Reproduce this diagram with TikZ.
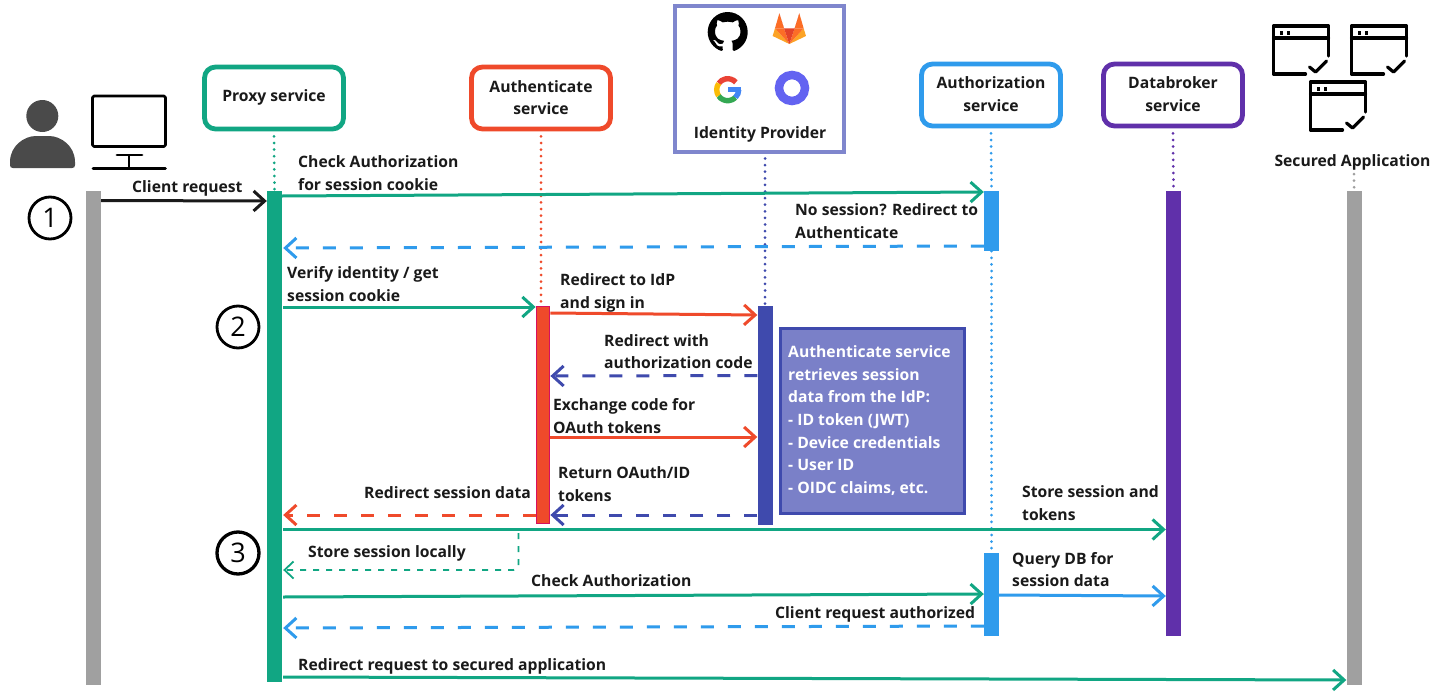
\documentclass[tikz,border=0pt]{standalone}
\usepackage{fontspec}
\setmainfont{Open Sans}
\usetikzlibrary{arrows.meta,svg.path}
\definecolor{cgreen}{HTML}{11A683}
\definecolor{cblue}{HTML}{2F9BEC}
\definecolor{cred}{HTML}{EF4A2B}
\definecolor{cindigo}{HTML}{3F4AAD}
\definecolor{cpurple}{HTML}{6030AA}
\definecolor{cgray}{HTML}{A0A0A0}
\definecolor{cpanel}{HTML}{7A80C8}
\definecolor{cidp}{HTML}{7F86CD}
\definecolor{ctext}{HTML}{1A1A1A}
\definecolor{cdark}{HTML}{4A4A4A}
\definecolor{ccrim}{HTML}{D6105F}
\definecolor{glred}{HTML}{E24329}
\definecolor{glorange}{HTML}{FC6D26}
\definecolor{glamber}{HTML}{FCA326}
\tikzset{
  x=1pt,y=-1pt,
  labeltext/.style={anchor=west,inner sep=0pt,align=left,text=ctext,font=\bfseries\fontsize{15.7}{22.6}\selectfont},
  boxframe/.style={draw,rounded corners=11pt,line width=4.8pt,fill=white,minimum width=139pt,minimum height=62pt,inner sep=0pt},
  boxlabel/.style={labeltext,anchor=center,align=center},
  lifebar/.style={rectangle,inner sep=0pt,minimum width=15pt},
  dotline/.style={line width=3pt,line cap=round,dash pattern=on 0pt off 6.6pt},
  msg/.style={line width=3pt,-{Straight Barb[length=11pt,width=20pt,line width=3pt]}},
  ret/.style={msg,dash pattern=on 13pt off 14pt},
  stepmark/.style={circle,draw=black,line width=2.8pt,minimum size=42pt,inner sep=0pt,font=\fontsize{27}{27}\selectfont},
  winline/.style={line width=3.2pt,line cap=round,line join=round},
}
\newcommand{\appwin}[2]{%
  \begin{scope}[shift={(#1,#2)}]
    \draw[winline] (32,48) -- (0,48) -- (0,0) -- (55,0) -- (55,30);
    \draw[winline] (0,12) -- (55,12);
    \fill (6,5) rectangle +(3.5,3.5);
    \fill (13,5) rectangle +(3.5,3.5);
    \draw[winline] (36,41) -- (42,46) -- (53,35);
  \end{scope}}
\begin{document}
\begin{tikzpicture}
\useasboundingbox (0,0) rectangle (1435,696);
\fill[white] (0,0) rectangle (1435,696);

% header boxes
\node[boxframe,draw=cgreen] (proxybox) at (274,98) {};
\node[boxlabel] (proxylabel) at (274,97.5) {Proxy service};
\node[boxframe,draw=cred] (authbox) at (541,98) {};
\node[boxlabel] (authlabel) at (541,97.5) {Authenticate\\service};
\node[boxframe,draw=cblue] (authzbox) at (991,95) {};
\node[boxlabel] (authzlabel) at (991,94) {Authorization\\service};
\node[boxframe,draw=cpurple] (dbbox) at (1173,95) {};
\node[boxlabel] (dblabel) at (1173,94) {Databroker\\service};
\node[draw=cidp,line width=4pt,fill=white,minimum width=169pt,minimum height=146pt,inner sep=0pt] (idpbox) at (759,78.5) {};
\node[boxlabel] (idplabel) at (760,134) {Identity Provider};
\node[boxlabel] (seclabel) at (1352.5,162) {Secured Application};

% lifeline bars
\node[lifebar,fill=cgray,minimum height=494pt] (clientbar) at (93.5,438) {};
\node[lifebar,fill=cgreen,minimum height=491pt] (proxybar) at (274.5,436.5) {};
\node[lifebar,fill=cred,draw=ccrim,line width=1.8pt,minimum width=13pt,minimum height=217pt] (authbar) at (543,415) {};
\node[lifebar,fill=cindigo,minimum height=219pt] (idpbar) at (765,415.5) {};
\node[lifebar,fill=cblue,minimum height=60pt] (authzbara) at (991.5,221) {};
\node[lifebar,fill=cblue,minimum height=83pt] (authzbarb) at (991.5,594.5) {};
\node[lifebar,fill=cpurple,minimum height=445pt] (dbbar) at (1173.5,413.5) {};
\node[lifebar,fill=cgray,minimum height=494pt] (secbar) at (1354,438) {};

% dotted lifelines
\draw[dotline,cgreen] (proxybox.south) ++(0,5) -- (proxybar.north);
\draw[dotline,cred] (authbox.south) ++(0,5) -- (541,306);
\draw[dotline,cindigo] (idpbox.south -| idpbar.north) ++(0,5) -- (idpbar.north);
\draw[dotline,cblue] (authzbox.south) ++(0,5) -- (authzbara.north);
\draw[dotline,cblue] (authzbara.south) -- (authzbarb.north);
\draw[dotline,cpurple] (dbbox.south) ++(0,5) -- (dbbar.north);
\draw[dotline,cgray] (seclabel.south -| secbar.north) ++(0,4) -- (secbar.north);

% panel
\node[draw=cindigo,fill=cpanel,line width=3.6pt,minimum width=184pt,minimum height=185pt,inner sep=0pt] (panel) at (872.5,421) {};
\node[labeltext,text=white] (paneltext) at (788,420.5) {Authenticate service\\retrieves session\\data from the IdP:\\- ID token (JWT)\\- Device credentials\\- User ID\\- OIDC claims, etc.};

% connectors
\draw[msg,ctext] (clientbar.east |- 0,200.5) -- (proxybar.west |- 0,201);
\draw[msg,cgreen] (proxybar.east |- 0,196) -- (authzbara.west |- 0,192);
\draw[ret,cblue] (authzbara.west |- 0,246) -- ([xshift=1pt]proxybar.east |- 0,248);
\draw[msg,cgreen] ([xshift=1pt]proxybar.east |- 0,307) -- (authbar.west |- 0,307);
\draw[msg,cred] (authbar.east |- 0,313) -- (idpbar.west |- 0,315);
\draw[ret,cindigo] (idpbar.west |- 0,375.5) -- (authbar.east |- 0,376);
\draw[msg,cred] (authbar.east |- 0,437) -- (idpbar.west |- 0,437);
\draw[ret,cindigo] (idpbar.west |- 0,515) -- (authbar.east |- 0,515);
\draw[ret,cred] (authbar.west |- 0,515) -- ([xshift=1pt]proxybar.east |- 0,515);
\draw[msg,cgreen] ([xshift=1pt]proxybar.east |- 0,529.5) -- (dbbar.west |- 0,529.5);
\coordinate (localstart) at (518.5,533);
\draw[cgreen,line width=1.8pt,dash pattern=on 6pt off 7pt,rounded corners=5pt,-{Straight Barb[length=9pt,width=17pt,line width=1.8pt]}] (localstart) -- (localstart |- 0,570) -- ([xshift=1pt]proxybar.east |- 0,570);
\draw[msg,cgreen] ([xshift=1pt]proxybar.east |- 0,597) -- (authzbarb.west |- 0,594);
\draw[ret,cblue] (authzbarb.west |- 0,626) -- ([xshift=1pt]proxybar.east |- 0,628);
\draw[msg,cblue] (authzbarb.east |- 0,595) -- (dbbar.west |- 0,596);
\draw[msg,cgreen] ([xshift=1pt]proxybar.east |- 0,677) -- (secbar.west |- 0,680);

% labels
\node[labeltext] (l1) at (132,188) {Client request};
\node[labeltext] (l2) at (298,173) {Check Authorization\\for session cookie};
\node[labeltext] (l3) at (795,221) {No session? Redirect to\\Authenticate};
\node[labeltext] (l4) at (287,284) {Verify identity / get\\session cookie};
\node[labeltext] (l5) at (560,293) {Redirect to IdP\\and sign in};
\node[labeltext] (l6) at (604,351.5) {Redirect with\\authorization code};
\node[labeltext] (l7) at (553,416) {Exchange code for\\OAuth tokens};
\node[labeltext] (l8) at (558,484) {Return OAuth/ID\\tokens};
\node[labeltext] (l9) at (364,493) {Redirect session data};
\node[labeltext] (l10) at (1022,503) {Store session and\\tokens};
\node[labeltext] (l11) at (308,553) {Store session locally};
\node[labeltext] (l12) at (531,581) {Check Authorization};
\node[labeltext] (l13) at (1012,569.5) {Query DB for\\session data};
\node[labeltext] (l14) at (775,614) {Client request authorized};
\node[labeltext] (l15) at (298,666) {Redirect request to secured application};

% step marks
\node[stepmark] (s1) at (50,218) {1};
\node[stepmark] (s2) at (238,327) {2};
\node[stepmark,line width=3.3pt] (s3) at (238,553) {3};

% person
\fill[cdark] (42.3,116) circle[radius=16];
\fill[cdark] (10,165) -- (10,162) .. controls (10,146) and (24,136) .. (36,136) -- (49,136) .. controls (61,136) and (75,146) .. (75,162) -- (75,165) .. controls (75,167) and (74,168) .. (72,168) -- (13,168) .. controls (11,168) and (10,167) .. (10,165) -- cycle;

% monitor
\draw[line width=2.7pt,line join=round,rounded corners=1.5pt] (92.5,96) rectangle (165.5,146.5);
\draw[line width=2.7pt,line cap=round] (117,155) -- (142,155);
\draw[line width=2.7pt] (129,155) -- (129,168);
\draw[line width=2.7pt,line cap=round] (93,168.3) -- (165.5,168.3);

% GitHub mark
\begin{scope}[shift={(707.7,12)},scale=2.5,yscale=-1]
\fill[black] svg {M8 0C3.58 0 0 3.58 0 8c0 3.54 2.29 6.53 5.47 7.59 0.4 0.07 0.55 -0.17 0.55 -0.38 0 -0.19 -0.01 -0.82 -0.01 -1.49 -2.01 0.37 -2.53 -0.49 -2.69 -0.94 -0.09 -0.23 -0.48 -0.94 -0.82 -1.13 -0.28 -0.15 -0.68 -0.52 -0.01 -0.53 0.63 -0.01 1.08 0.58 1.23 0.82 0.72 1.21 1.87 0.87 2.33 0.66 0.07 -0.52 0.28 -0.87 0.51 -1.07 -1.78 -0.2 -3.64 -0.89 -3.64 -3.95 0 -0.87 0.31 -1.59 0.82 -2.15 -0.08 -0.2 -0.36 -1.02 0.08 -2.12 0 0 0.67 -0.21 2.2 0.82 0.64 -0.18 1.32 -0.27 2 -0.27 0.68 0 1.36 0.09 2 0.27 1.53 -1.04 2.2 -0.82 2.2 -0.82 0.44 1.1 0.16 1.92 0.08 2.12 0.51 0.56 0.82 1.27 0.82 2.15 0 3.07 -1.87 3.75 -3.65 3.95 0.29 0.25 0.54 0.73 0.54 1.48 0 1.07 -0.01 1.93 -0.01 2.2 0 0.21 0.15 0.46 0.55 0.38 C13.71 14.53 16 11.53 16 8 C16 3.58 12.42 0 8 0z};
\end{scope}

% GitLab mark
\begin{scope}[shift={(660,0)},x=0.3333pt,y=-0.3333pt]
\fill[glamber] (345,85) -- (338,108) -- (388,132) -- cycle;
\fill[glamber] (431,85) -- (438,108) -- (388,132) -- cycle;
\fill[glorange] (345,85) -- (372,85) -- (388,132) -- cycle;
\fill[glorange] (431,85) -- (404,85) -- (388,132) -- cycle;
\fill[glorange] (358,40) -- (372,85) -- (345,85) -- cycle;
\fill[glorange] (418,40) -- (404,85) -- (431,85) -- cycle;
\fill[glred] (358,40) -- (372,85) -- (404,85) -- (418,40) -- (404,85) -- (388,132) -- (372,85) -- cycle;
\end{scope}

% Google mark
\begin{scope}[line width=5.4pt]
\draw[color={rgb,255:red,234;green,67;blue,53}] (727.7,89.7) ++(-42:11) arc[start angle=-42,end angle=-145,radius=11];
\draw[color={rgb,255:red,251;green,188;blue,5}] (727.7,89.7) ++(-145:11) arc[start angle=-145,end angle=-215,radius=11];
\draw[color={rgb,255:red,52;green,168;blue,83}] (727.7,89.7) ++(-215:11) arc[start angle=-215,end angle=-315,radius=11];
\draw[color={rgb,255:red,66;green,133;blue,244}] (727.7,89.7) ++(-315:11) arc[start angle=-315,end angle=-360,radius=11];
\fill[color={rgb,255:red,66;green,133;blue,244}] (728,87.2) rectangle (741,92);
\end{scope}

% ring mark
\draw[color={rgb,255:red,99;green,99;blue,241},line width=8.5pt] (792,88) circle[radius=13];

% application windows
\appwin{1273.5}{26}
\appwin{1351.5}{26}
\appwin{1310.5}{82}
\end{tikzpicture}
\end{document}
